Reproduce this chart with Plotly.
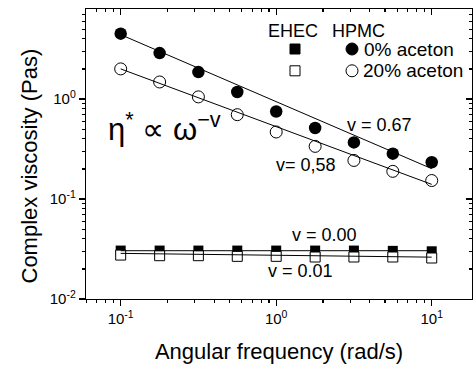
import plotly.graph_objects as go

# ---------------- data ----------------
omega = [0.1, 0.178, 0.316, 0.562, 1.0, 1.78, 3.16, 5.62, 10.0]
hpmc_0 = [4.50, 2.88, 1.86, 1.175, 0.75, 0.513, 0.368, 0.284, 0.233]
hpmc_20 = [2.00, 1.48, 1.05, 0.697, 0.468, 0.336, 0.243, 0.189, 0.153]
ehec_0 = [0.0305, 0.0305, 0.0305, 0.0305, 0.0305, 0.0305, 0.0305, 0.0303, 0.0300]
ehec_20 = [0.0275, 0.0271, 0.0271, 0.0267, 0.0267, 0.0263, 0.0263, 0.0263, 0.0257]

fit_x = [0.1, 10.0]
fit_hpmc_0 = [4.40, 0.201]
fit_hpmc_20 = [2.00, 0.140]
fit_ehec_0 = [0.0304, 0.0304]
fit_ehec_20 = [0.0286, 0.0262]

x_tickvals = [0.1, 1, 10]
x_ticktext = ["10<sup>-1</sup>", "10<sup>0</sup>", "10<sup>1</sup>"]
y_tickvals = [0.01, 0.1, 1]
y_ticktext = ["10<sup>-2</sup>", "10<sup>-1</sup>", "10<sup>0</sup>"]
x_minor = [0.06, 0.07, 0.08, 0.09] + [k * 0.1 for k in range(2, 10)] + list(range(2, 10))
y_minor = [k * 0.01 for k in range(2, 10)] + [k * 0.1 for k in range(2, 10)] + list(range(2, 9))

# ---------------- layout geometry ----------------
W, H = 473, 367
ML, MR, MT, MB = 86, 1, 9, 68
PW, PH = W - ML - MR, H - MT - MB
XR = [-1.223, 1.259]
YR = [-2.0, 0.9]


def px(xp):
    return (xp - ML) / PW


def py(yp):
    return (H - MB - yp) / PH


FONT = "Liberation Sans, Arial, sans-serif"

fig = go.Figure()

# markers
fig.add_trace(go.Scatter(x=omega, y=ehec_0, mode="markers",
                         marker=dict(symbol="square", size=10, color="black",
                                     line=dict(width=0)), showlegend=False))
fig.add_trace(go.Scatter(x=omega, y=ehec_20, mode="markers",
                         marker=dict(symbol="square", size=10, color="white",
                                     line=dict(width=1, color="black")), showlegend=False))
fig.add_trace(go.Scatter(x=omega, y=hpmc_0, mode="markers",
                         marker=dict(symbol="circle", size=12.5, color="black",
                                     line=dict(width=0)), showlegend=False))
fig.add_trace(go.Scatter(x=omega, y=hpmc_20, mode="markers",
                         marker=dict(symbol="circle", size=12, color="white",
                                     line=dict(width=1, color="black")), showlegend=False))
# fit lines
for fy in [fit_ehec_0, fit_ehec_20, fit_hpmc_0, fit_hpmc_20]:
    fig.add_trace(go.Scatter(x=fit_x, y=fy, mode="lines",
                             line=dict(color="black", width=1), showlegend=False,
                             hoverinfo="skip"))

# dummy trace for mirror axes (top/right with inward ticks)
fig.add_trace(go.Scatter(x=fit_x, y=fit_hpmc_0, xaxis="x2", yaxis="y2", mode="markers",
                         marker=dict(opacity=0), showlegend=False, hoverinfo="skip"))

axis_common = dict(type="log", showgrid=False, zeroline=False, showline=True,
                   automargin=False,
                   linecolor="black", linewidth=1.2, tickcolor="black", tickwidth=1.2)

fig.update_layout(
    template="none",
    width=W, height=H,
    margin=dict(l=ML, r=MR, t=MT, b=MB, pad=0, autoexpand=False),
    paper_bgcolor="white", plot_bgcolor="white",
    font=dict(family=FONT, color="black", size=15),
    xaxis=dict(axis_common, range=XR, tickmode="array", tickvals=x_tickvals,
               ticktext=x_ticktext, ticks="outside", ticklen=6,
               minor=dict(tickmode="array", tickvals=x_minor, ticks="outside",
                          ticklen=3, tickcolor="black", tickwidth=1.2),
               tickfont=dict(size=15),
               title=dict(text="Angular frequency (rad/s)", font=dict(size=22), standoff=17)),
    yaxis=dict(axis_common, range=YR, tickmode="array", tickvals=y_tickvals,
               ticktext=y_ticktext, ticks="outside", ticklen=6,
               minor=dict(tickmode="array", tickvals=y_minor, ticks="outside",
                          ticklen=3, tickcolor="black", tickwidth=1.2),
               tickfont=dict(size=15)),
    xaxis2=dict(axis_common, range=XR, overlaying="x", side="top", anchor="y2",
                tickmode="array", tickvals=x_tickvals, ticks="inside", ticklen=6,
                showticklabels=False,
                minor=dict(tickmode="array", tickvals=x_minor, ticks="inside",
                           ticklen=3, tickcolor="black", tickwidth=1.2)),
    yaxis2=dict(axis_common, range=YR, overlaying="y", side="right", anchor="x2",
                tickmode="array", tickvals=y_tickvals, ticks="inside", ticklen=6,
                showticklabels=False,
                minor=dict(tickmode="array", tickvals=y_minor, ticks="inside",
                           ticklen=3, tickcolor="black", tickwidth=1.2)),
)

ann = []


def add_text(text, x, y, size, xanchor="center", yanchor="middle", angle=0):
    ann.append(dict(text=text, x=px(x), y=py(y), xref="paper", yref="paper",
                    xanchor=xanchor, yanchor=yanchor, showarrow=False,
                    textangle=angle, font=dict(size=size, family=FONT, color="black")))


add_text("Complex viscosity (Pas)", 29, 166.5, 22, angle=-90)
add_text("v = 0.67", 379, 125, 18)
add_text("v= 0,58", 305.5, 165, 18)
add_text("v = 0.00", 324, 235, 18)
add_text("v = 0.01", 300, 271, 18)
add_text("η<sup>*</sup> ∝ ω<sup>−v</sup>", 106, 127, 31, xanchor="left")
add_text("EHEC", 293, 30.8, 18)
add_text("HPMC", 358.3, 30.8, 18)
add_text("0% aceton", 362, 49, 19, xanchor="left")
add_text("20% aceton", 361, 70.8, 19, xanchor="left")
fig.update_layout(annotations=ann)

# legend symbols (paper coordinates, pixel-sized)
shapes = []


def sym(kind, x, y, size, fill):
    shapes.append(dict(type=kind, xref="paper", yref="paper",
                       xsizemode="pixel", ysizemode="pixel",
                       xanchor=px(x), yanchor=py(y),
                       x0=-size / 2, x1=size / 2, y0=-size / 2, y1=size / 2,
                       fillcolor=fill, line=dict(color="black", width=1)))


sym("rect", 295, 49, 10, "black")
sym("rect", 295, 70.8, 10, "white")
sym("circle", 352, 49, 12, "black")
sym("circle", 352, 70.8, 12, "white")
fig.update_layout(shapes=shapes)

fig.write_html("out.html",
               config={"displayModeBar": False, "staticPlot": True},
               post_script="document.body.style.margin='0';"
                           "document.body.style.overflow='hidden';")
